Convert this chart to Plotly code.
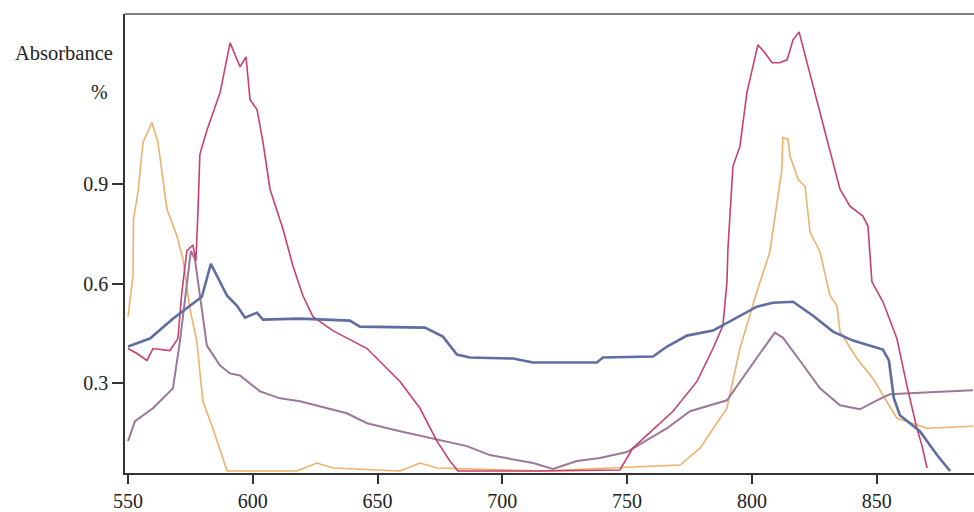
import plotly.graph_objects as go

# Wavelength (nm) / absorbance readings per curve
blue_wl = [550.0, 558.8, 568.0, 579.6, 583.2, 589.7, 593.7, 596.9, 601.7, 604.1, 618.9, 638.9, 642.9,
           669.0, 676.2, 681.8, 687.0, 704.3, 712.3, 737.9, 740.3, 760.4, 766.0, 774.0, 784.4, 792.4,
           802.0, 808.4, 816.5, 824.5, 832.5, 840.5, 852.5, 854.9, 856.9, 859.3, 867.3, 874.2, 879.4]
blue_abs = [0.411, 0.435, 0.495, 0.561, 0.660, 0.564, 0.534, 0.498, 0.513, 0.492, 0.495, 0.489, 0.471,
            0.468, 0.441, 0.387, 0.378, 0.375, 0.363, 0.363, 0.378, 0.381, 0.411, 0.444, 0.459, 0.492,
            0.531, 0.543, 0.546, 0.504, 0.456, 0.429, 0.402, 0.369, 0.255, 0.204, 0.156, 0.084, 0.036]

mauve_wl = [550.0, 552.8, 560.0, 568.0, 570.8, 573.2, 575.2, 576.8, 578.8, 581.6, 586.9, 590.9, 594.9,
            602.9, 610.9, 618.9, 637.7, 645.8, 659.0, 675.0, 685.8, 695.0, 712.3, 720.3, 729.9, 739.1,
            749.9, 766.0, 775.2, 790.0, 798.0, 803.2, 809.2, 812.4, 819.2, 827.3, 835.3, 843.3, 850.1,
            855.3, 871.3, 888.6]
mauve_abs = [0.126, 0.186, 0.225, 0.285, 0.426, 0.570, 0.699, 0.675, 0.564, 0.414, 0.354, 0.330, 0.324,
             0.276, 0.255, 0.246, 0.210, 0.180, 0.156, 0.129, 0.111, 0.084, 0.060, 0.042, 0.066, 0.075,
             0.093, 0.165, 0.216, 0.249, 0.336, 0.390, 0.453, 0.438, 0.369, 0.285, 0.234, 0.222, 0.249,
             0.267, 0.273, 0.279]

crimson_wl = [550.0, 553.6, 557.6, 560.0, 566.8, 570.0, 571.6, 573.6, 576.0, 577.2, 578.0, 578.8, 581.6,
              586.9, 590.9, 594.9, 597.3, 598.9, 601.7, 604.1, 606.9, 612.1, 616.1, 620.1, 624.1, 632.1,
              645.8, 659.0, 667.0, 673.8, 679.0, 682.2, 715.1, 747.1, 752.3, 768.4, 778.0, 784.4, 788.4,
              790.0, 790.4, 792.4, 795.2, 798.0, 802.4, 805.2, 808.1, 811.2, 814.1, 816.5, 818.9, 820.5,
              824.5, 830.1, 835.3, 839.3, 844.5, 846.5, 848.1, 852.5, 858.1, 862.1, 866.1, 868.1, 870.2]
crimson_abs = [0.405, 0.390, 0.369, 0.405, 0.399, 0.435, 0.576, 0.699, 0.717, 0.669, 0.810, 0.990, 1.062,
               1.176, 1.326, 1.254, 1.284, 1.155, 1.125, 1.026, 0.885, 0.765, 0.654, 0.564, 0.501, 0.459,
               0.405, 0.306, 0.225, 0.126, 0.066, 0.036, 0.036, 0.039, 0.105, 0.216, 0.306, 0.405, 0.474,
               0.606, 0.705, 0.954, 1.014, 1.176, 1.320, 1.296, 1.266, 1.266, 1.275, 1.335, 1.359, 1.314,
               1.194, 1.035, 0.885, 0.834, 0.804, 0.774, 0.606, 0.546, 0.435, 0.294, 0.165, 0.114, 0.045]

orange_wl = [550.0, 552.0, 552.2, 554.0, 556.0, 559.6, 562.0, 565.6, 569.6, 572.0, 574.8, 577.6, 580.0,
             584.0, 589.7, 617.7, 625.7, 632.1, 659.0, 667.0, 673.8, 715.1, 771.2, 779.2, 790.0, 795.2,
             802.0, 807.2, 812.0, 812.4, 814.5, 815.3, 818.5, 821.3, 823.3, 827.3, 831.3, 834.1, 835.3,
             842.1, 848.5, 854.1, 858.1, 870.2, 888.6]
orange_abs = [0.501, 0.624, 0.795, 0.876, 1.026, 1.086, 1.026, 0.825, 0.744, 0.675, 0.525, 0.426, 0.246,
              0.165, 0.036, 0.036, 0.060, 0.045, 0.036, 0.060, 0.045, 0.036, 0.054, 0.105, 0.225, 0.405,
              0.576, 0.696, 0.945, 1.041, 1.035, 0.984, 0.915, 0.894, 0.756, 0.696, 0.564, 0.534, 0.456,
              0.375, 0.315, 0.246, 0.195, 0.165, 0.171]

x_ticks = [550, 600, 650, 700, 750, 800, 850]
y_ticks = [0.3, 0.6, 0.9]
y_tick_text = ["0.3", "0.6", "0.9"]

FONT = "Liberation Serif, Times New Roman, serif"

fig = go.Figure()
fig.add_trace(go.Scatter(x=orange_wl, y=orange_abs, mode="lines",
                         line=dict(color="#efb06c", width=1.6), showlegend=False))
fig.add_trace(go.Scatter(x=mauve_wl, y=mauve_abs, mode="lines",
                         line=dict(color="#9c7896", width=2), showlegend=False))
fig.add_trace(go.Scatter(x=crimson_wl, y=crimson_abs, mode="lines",
                         line=dict(color="#c8406e", width=1.6), showlegend=False))
fig.add_trace(go.Scatter(x=blue_wl, y=blue_abs, mode="lines",
                         line=dict(color="#5f6da2", width=2.6), showlegend=False))

fig.update_layout(
    width=974, height=512,
    margin=dict(l=125, r=0, t=14, b=37),
    paper_bgcolor="white", plot_bgcolor="white",
    font=dict(family=FONT, size=20, color="#222"),
    xaxis=dict(range=[548.8, 889.0], tickvals=x_ticks, ticks="outside", ticklen=9,
               tickcolor="#333", tickwidth=1.5, showline=True, linecolor="#333", linewidth=1.5,
               showgrid=False, zeroline=False, tickfont=dict(family=FONT, size=20, color="#222")),
    yaxis=dict(range=[0.03, 1.413], tickvals=y_ticks, ticktext=y_tick_text, ticks="outside",
               ticklen=11, tickcolor="#333", tickwidth=1.5, showline=True, linecolor="#333",
               linewidth=1.5, showgrid=False, zeroline=False,
               tickfont=dict(family=FONT, size=20, color="#222")),
    shapes=[dict(type="line", xref="paper", yref="paper", x0=0, x1=1, y0=1, y1=1,
                 line=dict(color="#555", width=1.5))],
    annotations=[
        dict(text="Absorbance", xref="paper", yref="paper", x=-0.012, y=0.915,
             xanchor="right", yanchor="middle", showarrow=False,
             font=dict(family=FONT, size=20.5, color="#222")),
        dict(text="%", xref="paper", yref="paper", x=-0.03, y=0.83,
             xanchor="center", yanchor="middle", showarrow=False,
             font=dict(family=FONT, size=20, color="#222")),
    ],
)

fig.write_html("out.html", config={"displayModeBar": False},
               post_script="document.body.style.margin='0';document.body.style.overflow='hidden';")
